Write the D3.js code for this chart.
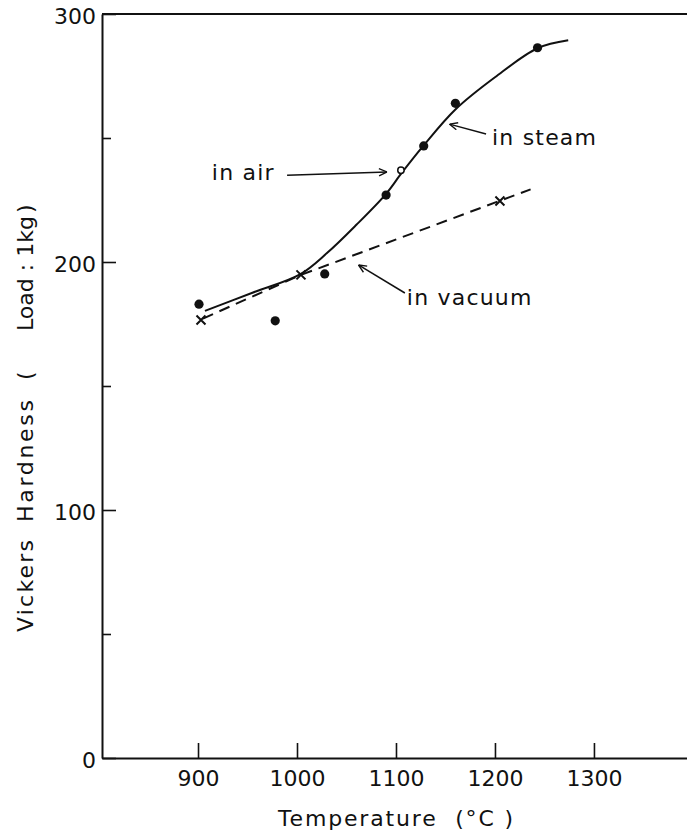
<!DOCTYPE html>
<html>
<head>
<meta charset="utf-8">
<script src="https://cdn.jsdelivr.net/npm/d3@7"></script>
<style>
  html, body { margin: 0; padding: 0; background: #fff; }
  svg { display: block; }
  text { font-family: "DejaVu Sans", sans-serif; fill: #111; }
</style>
</head>
<body>
<svg id="chart" width="687" height="837"></svg>
<script>
// ---- data ----
const xTicks = [900, 1000, 1100, 1200, 1300];
const yTicks = [0, 100, 200, 300];
const yMinorTicks = [50, 150, 250];

// in steam (filled dots)
const steamT = [901, 978, 1028, 1090, 1128, 1160, 1243];
const steamH = [183, 176.3, 195.2, 227, 246.8, 264, 286.4];
// in air (open circle)
const airT = [1105];
const airH = [237];
// in vacuum (crosses)
const vacT = [903, 1004, 1205];
const vacH = [176.6, 194.8, 224.6];

// drawn curves
const steamCurveT = [907, 955, 1003, 1030, 1060, 1090, 1105, 1128, 1160, 1200, 1243, 1274];
const steamCurveH = [180.3, 187.6, 195, 203.5, 215, 227.5, 235.5, 247, 261.5, 274.5, 286.2, 289.4];
const vacLineT = [905, 1004, 1236];
const vacLineH = [177.2, 194.8, 229.3];

// annotations: label, text anchor point, arrow start, arrow end (data units)
const annLabels = ["in air", "in steam", "in vacuum"];
const annTextT = [914, 1197, 1111];
const annTextH = [233, 247, 182.7];
const annFromT = [990, 1191, 1109];
const annFromH = [235, 251.6, 187.5];
const annToT = [1091, 1154, 1062];
const annToH = [236.3, 255.6, 198.8];

// y-axis title pieces (read bottom to top)
const yTitleParts = ["Vickers", "Hardness", "(", "Load : 1kg", ")"];

// ---- chart ----
const svg = d3.select("#chart");
const x = d3.scaleLinear().domain([803, 1394]).range([102, 687]);
const y = d3.scaleLinear().domain([0, 300]).range([758, 14]);

const ink = "#111";

// axes
const gx = svg.append("g").attr("transform", `translate(0,${y(0)})`)
  .call(d3.axisBottom(x).tickValues(xTicks).tickSizeInner(-15).tickSizeOuter(0).tickPadding(12).tickFormat(d3.format("d")));
const gy = svg.append("g").attr("transform", `translate(${x(803)},0)`)
  .call(d3.axisLeft(y).tickValues(yTicks).tickSizeInner(-14).tickSizeOuter(0).tickPadding(6).tickFormat(d3.format("d")));
const gym = svg.append("g").attr("transform", `translate(${x(803)},0)`)
  .call(d3.axisLeft(y).tickValues(yMinorTicks).tickSizeInner(-9).tickSizeOuter(0).tickFormat(""));
gym.select(".domain").remove();

[gx, gy, gym].forEach(g => {
  g.selectAll("path.domain").attr("stroke", ink).attr("stroke-width", 2);
  g.selectAll(".tick line").attr("stroke", ink).attr("stroke-width", 1.6);
  g.selectAll(".tick text").attr("font-size", 22).attr("font-family", '"DejaVu Sans", sans-serif').attr("fill", ink);
});
gy.selectAll(".tick text").attr("dy", "0.42em");

// top border
svg.append("line")
  .attr("x1", x(803)).attr("x2", x(1394))
  .attr("y1", y(300)).attr("y2", y(300))
  .attr("stroke", ink).attr("stroke-width", 2);

// axis titles
svg.append("text")
  .attr("x", 278).attr("y", 826)
  .attr("font-size", 22)
  .attr("textLength", 235).attr("lengthAdjust", "spacing")
  .attr("xml:space", "preserve")
  .text("Temperature  (°C )");

const yTitlePos = [632, 522, 380, 331, 213];
const yTitleLen = [92, 122, null, null, null];
yTitleParts.forEach((p, i) => {
  const t = svg.append("text")
    .attr("transform", `translate(33,${yTitlePos[i]}) rotate(-90)`)
    .attr("font-size", 22)
    .attr("xml:space", "preserve")
    .text(p);
  if (yTitleLen[i]) t.attr("textLength", yTitleLen[i]).attr("lengthAdjust", "spacing");
});

// lines
svg.append("path")
  .datum(steamCurveT.map((t, i) => [t, steamCurveH[i]]))
  .attr("d", d3.line().x(d => x(d[0])).y(d => y(d[1])).curve(d3.curveCatmullRom.alpha(0.5)))
  .attr("fill", "none").attr("stroke", ink).attr("stroke-width", 2);

svg.append("path")
  .datum(vacLineT.map((t, i) => [t, vacLineH[i]]))
  .attr("d", d3.line().x(d => x(d[0])).y(d => y(d[1])))
  .attr("fill", "none").attr("stroke", ink).attr("stroke-width", 2)
  .attr("stroke-dasharray", "11,7");

// markers
svg.append("g").selectAll("circle")
  .data(steamT.map((t, i) => [t, steamH[i]]))
  .join("circle")
  .attr("cx", d => x(d[0])).attr("cy", d => y(d[1])).attr("r", 4.6)
  .attr("fill", ink);

svg.append("g").selectAll("circle")
  .data(airT.map((t, i) => [t, airH[i]]))
  .join("circle")
  .attr("cx", d => x(d[0])).attr("cy", d => y(d[1])).attr("r", 3.2)
  .attr("fill", "#fff").attr("stroke", ink).attr("stroke-width", 1.5);

const s = 4.5;
svg.append("g").selectAll("path")
  .data(vacT.map((t, i) => [t, vacH[i]]))
  .join("path")
  .attr("d", d => `M${x(d[0]) - s},${y(d[1]) - s}L${x(d[0]) + s},${y(d[1]) + s}M${x(d[0]) - s},${y(d[1]) + s}L${x(d[0]) + s},${y(d[1]) - s}`)
  .attr("stroke", ink).attr("stroke-width", 2).attr("fill", "none");

// arrow marker
svg.append("defs").append("marker")
  .attr("id", "arrow").attr("viewBox", "0 0 10 10")
  .attr("refX", 10).attr("refY", 5)
  .attr("markerWidth", 9).attr("markerHeight", 9)
  .attr("markerUnits", "userSpaceOnUse")
  .attr("orient", "auto")
  .append("path").attr("d", "M1,1L10,5L1,9")
  .attr("fill", "none").attr("stroke", ink).attr("stroke-width", 1.5);

annLabels.forEach((lab, i) => {
  svg.append("line")
    .attr("x1", x(annFromT[i])).attr("y1", y(annFromH[i]))
    .attr("x2", x(annToT[i])).attr("y2", y(annToH[i]))
    .attr("stroke", ink).attr("stroke-width", 1.5)
    .attr("marker-end", "url(#arrow)");
  svg.append("text")
    .attr("x", x(annTextT[i])).attr("y", y(annTextH[i]))
    .attr("font-size", 22).attr("letter-spacing", 1.2)
    .text(lab);
});
</script>
</body>
</html>
